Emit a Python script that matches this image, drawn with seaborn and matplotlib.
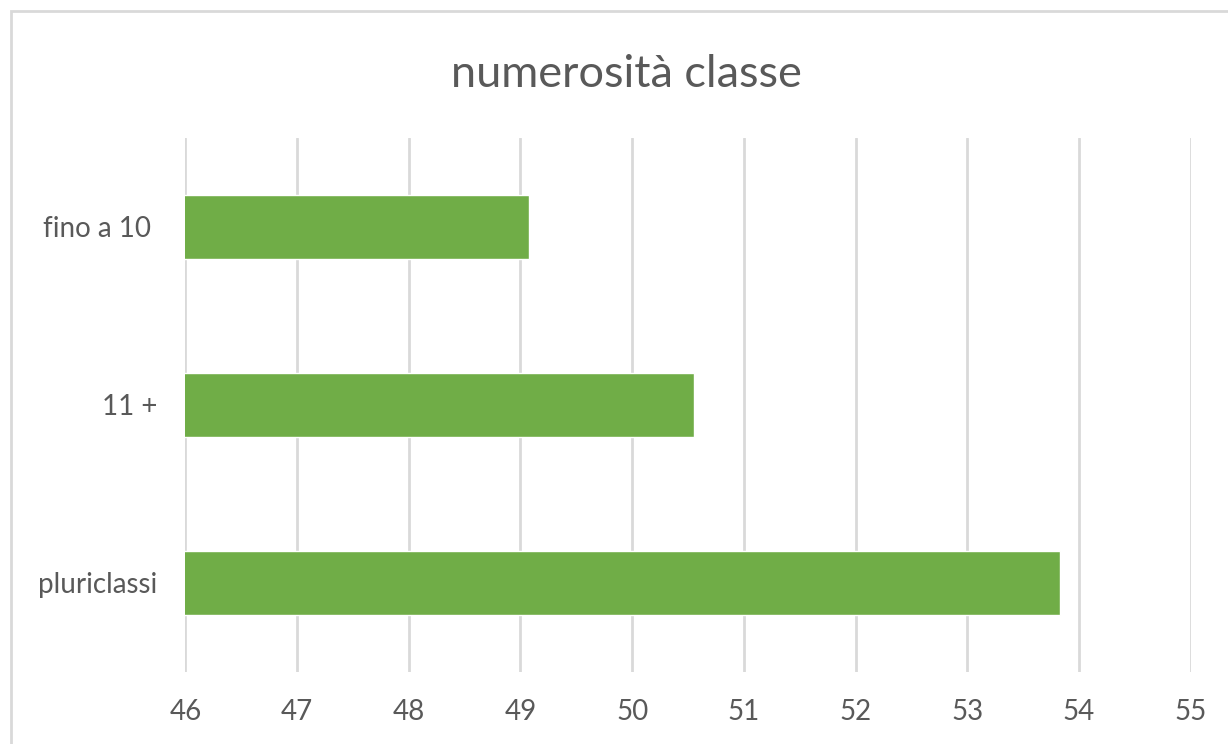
import pandas
import seaborn
import matplotlib.pyplot as plt
from matplotlib.patches import Rectangle

seaborn.set_style('white')
plt.rcParams['font.family'] = ['Lato', 'DejaVu Sans']

categories = ['fino a 10 ', '11 +', 'pluriclassi']
values = [49.08, 50.55, 53.83]
ticks = list(range(46, 56))

data = pandas.DataFrame({'classe': categories, 'valore': values})

fig = plt.figure(figsize=(12.28, 7.44), dpi=100)
ax = fig.add_axes([0.151, 0.0974, 0.8185, 0.7171])

seaborn.barplot(data=data, x='valore', y='classe', orient='h',
                color='#70ad47', saturation=1, width=0.36, ax=ax, zorder=3)

ax.set_xlim(46, 55)
ax.set_xticks(ticks)
ax.grid(axis='x', color='#d9d9d9', linewidth=2, zorder=0)
ax.grid(axis='y', visible=False)
ax.set_axisbelow(True)
for s in ax.spines.values():
    s.set_visible(False)
ax.tick_params(axis='x', length=0, pad=20, labelsize=20, labelcolor='#595959')
ax.tick_params(axis='y', length=0, pad=20, labelsize=20, labelcolor='#595959')
ax.set_xlabel('')
ax.set_ylabel('')

fig.text(0.5105, 0.900, 'numerosità classe', ha='center', va='center',
         fontsize=32.5, color='#595959')

# chart border
fig.patches.append(Rectangle((11 / 1228, -0.1), 1.2, 1 - 11 / 744 + 0.1,
                             transform=fig.transFigure, fill=False,
                             edgecolor='#d9d9d9', linewidth=2))

fig.savefig('out.png', dpi=100)
